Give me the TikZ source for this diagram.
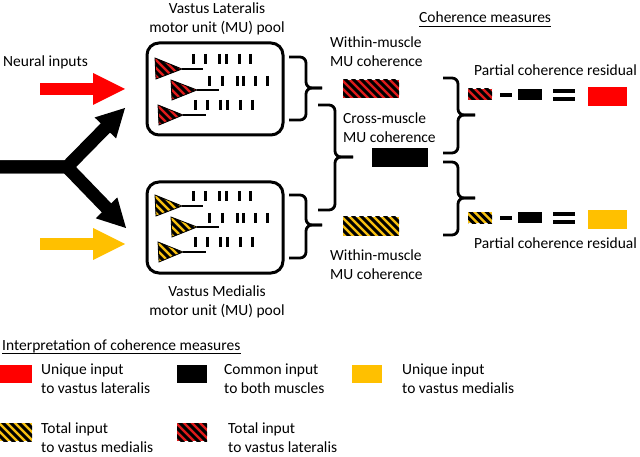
\documentclass[tikz,border=0pt]{standalone}
\usepackage{fontspec}
\setmainfont{Carlito}
\usetikzlibrary{calc}
\definecolor{cred}{HTML}{FF0000}
\definecolor{cyel}{HTML}{FFC000}
\definecolor{hred}{HTML}{E01B1B}
\definecolor{hyel}{HTML}{F7C010}
\tikzset{
  hatch/.style={path picture={\foreach \k in {-12,...,12}{\draw[line width=3pt] ($(path picture bounding box.north west)+(\k*8pt,3pt)$) -- ++(40pt,-40pt);}}},
  txt/.style={font=\fontsize{15.5pt}{19pt}\selectfont, inner sep=0pt, align=left},
  rect/.style={rectangle, inner sep=0pt, outer sep=0pt, draw=none},
  poolbox/.style={rectangle, rounded corners=12pt, draw=black, line width=3pt, inner sep=0pt},
  neuron/.style={draw=black, line width=0.8pt, hatch},
  axon/.style={line width=1.5pt},
  spike/.style={line width=3pt},
  brc/.style={line width=2.8pt, rounded corners=6pt},
}
\newcommand\mupool[3]{% colour, yshift, name prefix
  \begin{scope}[shift={(0,#2)}]
    \path[neuron, fill=#1] (155,58) -- (156,79) -- (182,69) -- cycle;
    \coordinate (#3a1) at (182,69); \coordinate (#3b1) at (203,69);
    \draw[axon] (#3a1) -- (#3b1);
    \path[neuron, fill=#1] (171,80) -- (172,100) -- (197,90) -- cycle;
    \coordinate (#3a2) at (197,90); \coordinate (#3b2) at (219,90);
    \draw[axon] (#3a2) -- (#3b2);
    \path[neuron, fill=#1] (158,105) -- (159,125) -- (183,115) -- cycle;
    \coordinate (#3a3) at (183,115); \coordinate (#3b3) at (206,115);
    \draw[axon] (#3a3) -- (#3b3);
    \foreach \dx in {0,12,26,33,46,57} \draw[spike] (193+\dx,54) -- (193+\dx,64);
    \foreach \dx in {0,13,28,34,46,58} \draw[spike] (209+\dx,76) -- (209+\dx,86);
    \foreach \dx in {0,12,25,32,45,57} \draw[spike] (195+\dx,100) -- (195+\dx,110);
  \end{scope}}
\newcommand\rbrc[6]{% xl xv xt ytop ymid ybot
  \draw[brc] (#1,#4) -- (#2,#4) -- (#2,#5) -- (#3,#5);
  \draw[brc] (#3,#5) -- (#2,#5) -- (#2,#6) -- (#1,#6);}
\begin{document}
\begin{tikzpicture}[x=1pt,y=-1pt]
\fill[white] (0,0) rectangle (640,457);
\useasboundingbox (0,0) rectangle (640,457);

% titles
\node[txt, align=center] (vlt) at (217,19) {Vastus Lateralis\\motor unit (MU) pool};
\node[txt, align=center] (vmt) at (217,302) {Vastus Medialis\\motor unit (MU) pool};
\node[txt, anchor=west] (ni) at (3,62) {Neural inputs};

% pools
\node[poolbox, minimum width=136pt, minimum height=92pt] (vl) at (215,89) {};
\node[poolbox, minimum width=136pt, minimum height=91pt] (vm) at (215,227.5) {};
\mupool{hred}{0}{L}
\mupool{hyel}{137}{M}

% red and yellow input arrows
\coordinate (rs) at (40,89); \coordinate (rt) at (125,89);
\draw[cred, line width=12pt] (rs) -- ($(rt)+(-30,0)$);
\fill[cred] (rt) -- ($(rt)+(-32,-16)$) -- ($(rt)+(-32,16)$) -- cycle;
\coordinate (ys) at (40,244); \coordinate (yt) at (125,244);
\draw[cyel, line width=12pt] (ys) -- ($(yt)+(-30,0)$);
\fill[cyel] (yt) -- ($(yt)+(-32,-16)$) -- ($(yt)+(-32,16)$) -- cycle;

% black Y arrow
\coordinate (S) at (-5,167); \coordinate (J) at (67,167);
\coordinate (T1) at (125,108); \coordinate (T2) at (126,228);
\coordinate (B1) at ($(T1)!28pt!(J)$); \coordinate (B2) at ($(T2)!28pt!(J)$);
\draw[line width=13pt, line join=miter] (S) -- (J) -- ($(T1)!25pt!(J)$);
\draw[line width=13pt, line join=miter] (S) -- (J) -- ($(T2)!25pt!(J)$);
\fill (T1) -- ($(B1)!15pt!90:(T1)$) -- ($(B1)!15pt!-90:(T1)$) -- cycle;
\fill (T2) -- ($(B2)!15pt!90:(T2)$) -- ($(B2)!15pt!-90:(T2)$) -- cycle;

% braces
\rbrc{289}{306}{322}{57}{88}{120}
\rbrc{289}{306}{322}{195}{225}{258}
\rbrc{318}{335}{353}{105}{157}{210}
\rbrc{443}{458}{475}{78}{115}{153}
\rbrc{443}{458}{475}{162}{198}{235}

% coherence measures
\node[txt, anchor=base west] (cm) at (419,23) {Coherence measures};
\draw[line width=0.9pt] ($(cm.base west)+(0,3)$) -- ($(cm.base east)+(0,3)$);
\node[txt, anchor=west] (w1) at (330,51.5) {Within-muscle\\MU coherence};
\node[rect, fill=hred, hatch, minimum width=56pt, minimum height=18pt] (wvl) at (371,89) {};
\node[txt, anchor=west] (cmu) at (343,127.5) {Cross-muscle\\MU coherence};
\node[rect, fill=black, minimum width=56pt, minimum height=19pt] (cross) at (400,157.5) {};
\node[rect, fill=hyel, hatch, minimum width=56pt, minimum height=19pt] (wvm) at (371,226.5) {};
\node[txt, anchor=west] (w2) at (330,264.5) {Within-muscle\\MU coherence};

% partial coherence rows
\node[txt, anchor=west] (p1) at (474,70) {Partial coherence residual};
\node[rect, fill=hred, hatch, minimum width=24pt, minimum height=11pt] (e1a) at (480,94.5) {};
\node[rect, fill=black, minimum width=12pt, minimum height=4pt] (e1m) at (506,95) {};
\node[rect, fill=black, minimum width=24pt, minimum height=11pt] (e1b) at (530,94.5) {};
\node[rect, fill=black, minimum width=22pt, minimum height=4pt] (e1q1) at (564,91) {};
\node[rect, fill=black, minimum width=22pt, minimum height=4pt] (e1q2) at (564,99) {};
\node[rect, fill=cred, minimum width=39pt, minimum height=19pt] (e1r) at (607.5,96.5) {};

\node[txt, anchor=west] (p2) at (474,243) {Partial coherence residual};
\node[rect, fill=hyel, hatch, minimum width=24pt, minimum height=11pt] (e2a) at (480,218) {};
\node[rect, fill=black, minimum width=12pt, minimum height=4pt] (e2m) at (506,218.5) {};
\node[rect, fill=black, minimum width=24pt, minimum height=11pt] (e2b) at (530,218) {};
\node[rect, fill=black, minimum width=22pt, minimum height=4pt] (e2q1) at (564,214) {};
\node[rect, fill=black, minimum width=22pt, minimum height=4pt] (e2q2) at (564,222) {};
\node[rect, fill=cyel, minimum width=39pt, minimum height=19pt] (e2r) at (607.5,219.5) {};

% legend
\node[txt, anchor=base west] (it) at (2,350) {Interpretation of coherence measures};
\draw[line width=0.9pt] ($(it.base west)+(0,3)$) -- ($(it.base east)+(0,3)$);
\node[rect, fill=cred, minimum width=32pt, minimum height=18pt] (lg1) at (16,374) {};
\node[txt, anchor=west] (lt1) at (41,379) {Unique input\\to vastus lateralis};
\node[rect, fill=black, minimum width=30pt, minimum height=18pt] (lg2) at (192,374) {};
\node[txt, anchor=west] (lt2) at (224,379) {Common input\\to both muscles};
\node[rect, fill=cyel, minimum width=30pt, minimum height=18pt] (lg3) at (367,374) {};
\node[txt, anchor=west] (lt3) at (402,379) {Unique input\\to vastus medialis};
\node[rect, fill=hyel, hatch, minimum width=32pt, minimum height=18pt] (lg4) at (16,432) {};
\node[txt, anchor=west] (lt4) at (41,437.5) {Total input\\to vastus medialis};
\node[rect, fill=hred, hatch, minimum width=30pt, minimum height=18pt] (lg5) at (192,432) {};
\node[txt, anchor=west] (lt5) at (228,437.5) {Total input\\to vastus lateralis};
\end{tikzpicture}
\end{document}
